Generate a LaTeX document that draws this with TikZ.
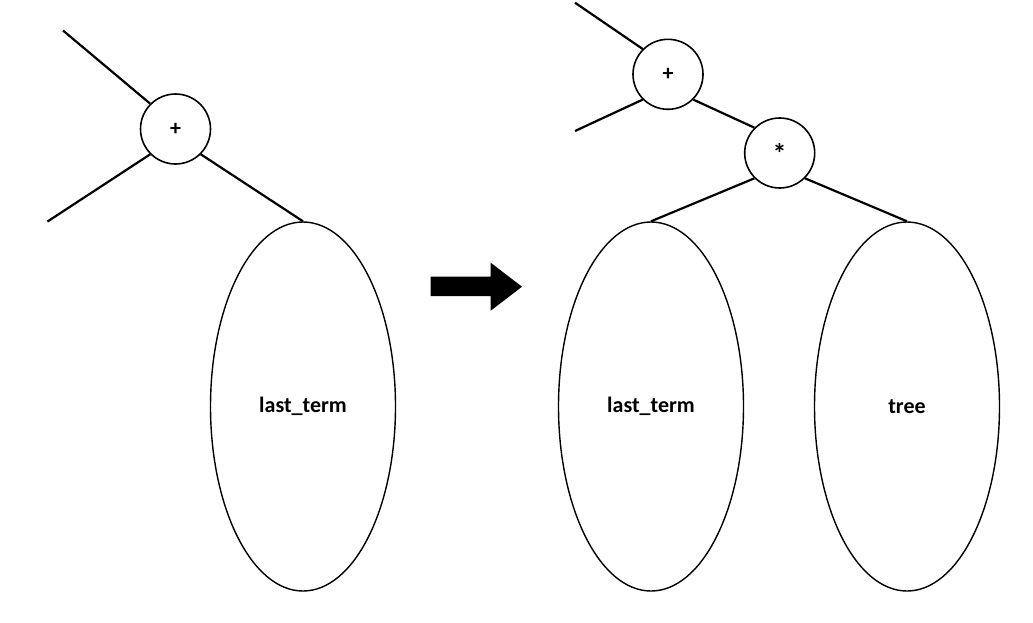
\documentclass[tikz,border=0pt]{standalone}
\usepackage{fontspec}
\setmainfont{Carlito}
\usetikzlibrary{shapes.geometric}
\tikzset{
  opnode/.style={circle, draw, line width=1.6pt, minimum size=70pt, inner sep=0pt, font=\bfseries\fontsize{22}{22}\selectfont},
  subtree/.style={ellipse, draw, line width=1.4pt, minimum width=185pt, minimum height=369pt, inner sep=0pt, font=\bfseries\fontsize{22}{22}\selectfont},
  edge/.style={line width=2.2pt},
}
\begin{document}
\begin{tikzpicture}[x=1pt, y=-1pt]
\useasboundingbox (0,0) rectangle (1033,622);
% left tree
\node[opnode] (p1) at (175.5,129) {+};
\node[subtree] (lt1) at (303,406.5) {last\_term};
\coordinate (a1) at (63,30.5);
\coordinate (b1) at (47.5,221.5);
\draw[edge] (a1) -- (p1.north west);
\draw[edge] (b1) -- (p1.south west);
\draw[edge] (p1.south east) -- (lt1.north);
% arrow
\fill (430.7,276.7) -- (490.7,276.7) -- (490.7,262.7) -- (522,286.7) -- (490.7,310.7) -- (490.7,296) -- (430.7,296) -- cycle;
% right tree
\node[opnode] (p2) at (668,74.3) {+};
\node[opnode, font=\bfseries\fontsize{28}{28}\selectfont] (m2) at (779.7,153) {\raisebox{-3pt}{*}};
\node[subtree] (lt2) at (651,406.5) {last\_term};
\node[subtree] (tr2) at (907,406.5) {tree};
\coordinate (a2) at (575,2.7);
\coordinate (b2) at (575,131);
\draw[edge] (a2) -- (p2.north west);
\draw[edge] (b2) -- (p2.south west);
\draw[edge] (p2.south east) -- (m2.north west);
\draw[edge] (m2.south west) -- (lt2.north);
\draw[edge] (m2.south east) -- (tr2.north);
\end{tikzpicture}
\end{document}
